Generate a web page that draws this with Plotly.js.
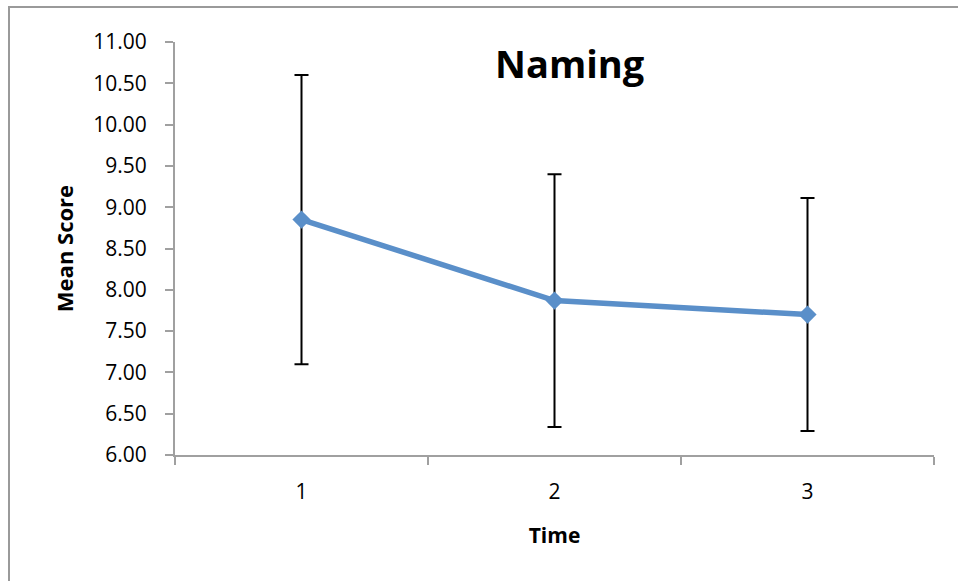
<!DOCTYPE html>
<html>
<head>
<meta charset="utf-8">
<script src="https://cdn.plot.ly/plotly-3.0.1.min.js"></script>
<style>
  html, body { margin: 0; padding: 0; background: #fff; }
  #wrap { position: relative; width: 958px; height: 581px; }
  #frame { position: absolute; left: 8px; top: 6px; right: 0; bottom: 0;
           border-top: 2px solid #9a9a9a; border-left: 2px solid #9a9a9a; pointer-events: none; z-index: 5; }
  #chart { position: absolute; left: 0; top: 0; width: 958px; height: 581px; }
</style>
</head>
<body>
<div id="wrap">
  <div id="chart"></div>
  <div id="frame"></div>
</div>
<script>
const categories = ["1", "2", "3"];
const meanScores = [8.85, 7.87, 7.70];
const errors = [1.75, 1.53, 1.41];
const yTickVals = [6, 6.5, 7, 7.5, 8, 8.5, 9, 9.5, 10, 10.5, 11];
const yTickText = ["6.00", "6.50", "7.00", "7.50", "8.00", "8.50", "9.00", "9.50", "10.00", "10.50", "11.00"];

const font = "'Open Sans', 'Liberation Sans', sans-serif";

const trace = {
  type: "scatter",
  mode: "lines+markers",
  x: categories,
  y: meanScores,
  line: { color: "#5a8fc9", width: 5.5 },
  marker: { symbol: "diamond", size: 14, color: "#5a8fc9" },
  error_y: { type: "data", array: errors, visible: true, color: "#000000", thickness: 2, width: 7 },
  cliponaxis: false,
  showlegend: false
};

const layout = {
  width: 958,
  height: 581,
  margin: { l: 175, r: 24, t: 42, b: 126 },
  paper_bgcolor: "#ffffff",
  plot_bgcolor: "#ffffff",
  font: { family: font, color: "#000000" },
  title: {
    text: "<b>Naming</b>",
    font: { family: font, size: 38, color: "#000000" },
    xref: "paper", x: 0.52, xanchor: "center",
    yref: "container", y: 0.888, yanchor: "middle"
  },
  xaxis: {
    type: "category",
    range: [-0.5, 2.5],
    tickson: "boundaries",
    ticks: "outside",
    ticklen: 8,
    tickwidth: 2,
    tickcolor: "#a0a0a0",
    showline: true,
    linecolor: "#a0a0a0",
    linewidth: 2,
    showgrid: false,
    zeroline: false,
    ticklabelstandoff: 17,
    tickfont: { family: font, size: 21, color: "#000000" },
    title: { text: "<b>Time</b>", font: { family: font, size: 21, color: "#000000" }, standoff: 24 },
    fixedrange: true
  },
  yaxis: {
    range: [6, 11],
    tickvals: yTickVals,
    ticktext: yTickText,
    ticks: "outside",
    ticklen: 8,
    tickwidth: 2,
    tickcolor: "#a0a0a0",
    showline: true,
    linecolor: "#a0a0a0",
    linewidth: 2,
    showgrid: false,
    zeroline: false,
    ticklabelstandoff: 14,
    tickfont: { family: font, size: 21, color: "#000000" },
    title: { text: "<b>Mean Score</b>", font: { family: font, size: 22, color: "#000000" }, standoff: 14 },
    fixedrange: true
  }
};

Plotly.newPlot("chart", [trace], layout, { displayModeBar: false, staticPlot: true });
</script>
</body>
</html>
